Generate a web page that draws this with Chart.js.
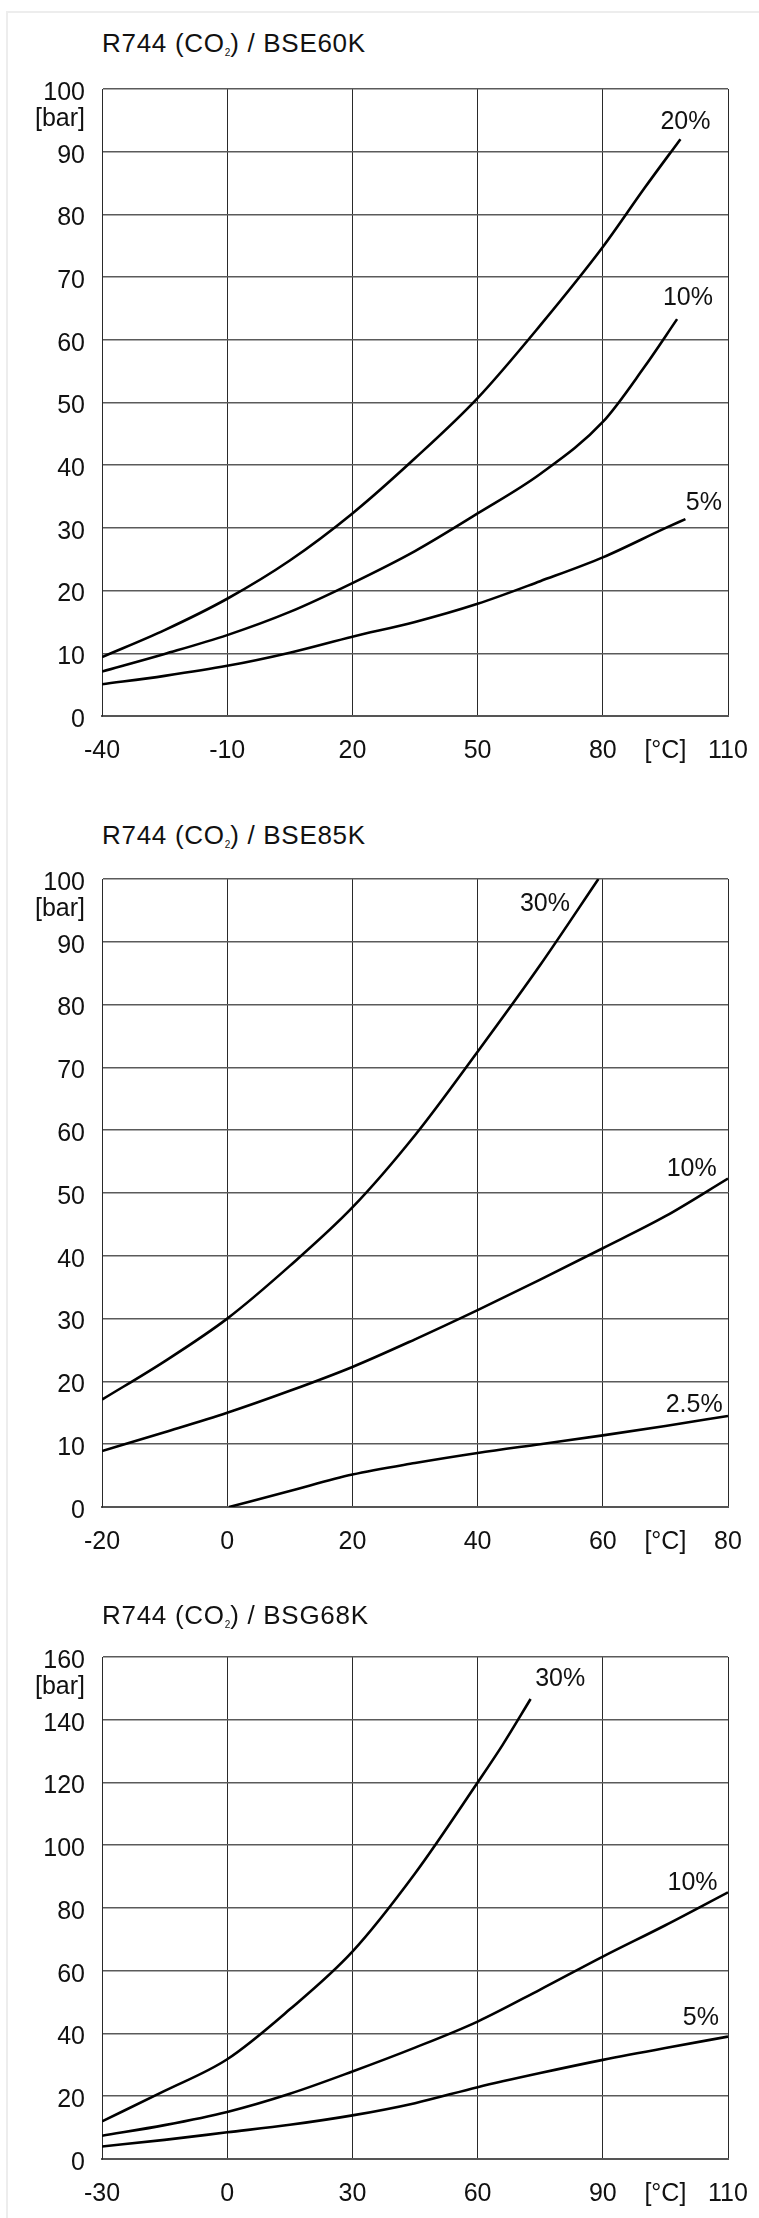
<!DOCTYPE html>
<html>
<head>
<meta charset="utf-8">
<script src="https://cdn.jsdelivr.net/npm/chart.js@4.4.1/dist/chart.umd.min.js"></script>
<style>
  body { margin: 0; background: #fff; width: 759px; height: 2218px; position: relative; overflow: hidden; font-family: 'Liberation Sans', Arial, sans-serif; color: #111; }
  .frame { position: absolute; left: 6px; top: 11px; width: 800px; height: 2300px; border: 2px solid #ededed; }
  .chart-title { position: absolute; left: 102px; font-size: 26px; letter-spacing: 0.7px; line-height: 30px; white-space: nowrap; z-index: 2; }
  .chart-title sub { font-size: 10px; vertical-align: -4px; line-height: 0; letter-spacing: 0; }
  canvas { position: absolute; left: 0; }
</style>
</head>
<body>
<div class="frame"></div>

<div class="chart-title" style="top:28px">R744 (CO<sub>2</sub>) / BSE60K</div>
<canvas id="bse60k" width="759" height="716" style="top:60px"></canvas>

<div class="chart-title" style="top:820px">R744 (CO<sub>2</sub>) / BSE85K</div>
<canvas id="bse85k" width="759" height="717" style="top:850px"></canvas>

<div class="chart-title" style="top:1600px">R744 (CO<sub>2</sub>) / BSG68K</div>
<canvas id="bsg68k" width="759" height="591" style="top:1628px"></canvas>

<script>
// --- BSE60K ---
const xTicks60 = [-40, -10, 20, 50, 80, 110];
const xLabels60 = ['-40', '-10', '20', '50', '80', '110'];
const yTicks60 = [0, 10, 20, 30, 40, 50, 60, 70, 80, 90, 100];
const t60_20 = [-40, -25, -10, 5, 20, 35, 50, 65, 80, 90, 98.6];
const p60_20 = [9.4, 13.7, 18.7, 24.8, 32.3, 41.1, 50.7, 62.3, 74.8, 84.2, 92];
const t60_10 = [-40, -25, -10, 5, 20, 35, 50, 65, 80, 90, 97.8];
const p60_10 = [7.1, 9.9, 12.9, 16.6, 21.2, 26.3, 32.3, 38.6, 46.9, 55.7, 63.3];
const t60_5 = [-40, -25, -10, 5, 20, 35, 50, 65, 80, 95.1, 99.8];
const p60_5 = [5.05, 6.4, 8.0, 10.1, 12.65, 15.0, 17.9, 21.5, 25.3, 30, 31.4];
const notes60 = [
  { text: '20%', x: 99.8, y: 94.7 },
  { text: '10%', x: 100.4, y: 66.7 },
  { text: '5%', x: 104.2, y: 34 },
];

// --- BSE85K ---
const xTicks85 = [-20, 0, 20, 40, 60, 80];
const xLabels85 = ['-20', '0', '20', '40', '60', '80'];
const yTicks85 = [0, 10, 20, 30, 40, 50, 60, 70, 80, 90, 100];
const t85_30 = [-20, -10, 0, 10, 20, 30, 40, 50, 59.3];
const p85_30 = [17.1, 23.2, 30, 38.4, 47.7, 59.2, 72.5, 86.3, 100];
const t85_10 = [-20, -10, 0, 10, 20, 30, 40, 50, 60, 70, 80];
const p85_10 = [8.9, 11.9, 15.0, 18.5, 22.3, 26.7, 31.35, 36.2, 41.2, 46.3, 52.3];
const t85_25 = [0.3, 10, 20, 30, 40, 50, 60, 70, 80];
const p85_25 = [0, 2.55, 5.16, 7.0, 8.6, 10.0, 11.4, 12.9, 14.5];
const notes85 = [
  { text: '30%', x: 50.75, y: 96 },
  { text: '10%', x: 74.2, y: 53.8 },
  { text: '2.5%', x: 74.6, y: 16.2 },
];

// --- BSG68K (grid positions; last line is printed as 110) ---
const xTicks68 = [-30, 0, 30, 60, 90, 120];
const xLabels68 = ['-30', '0', '30', '60', '90', '110'];
const yTicks68 = [0, 20, 40, 60, 80, 100, 120, 140, 160];
const t68_30 = [-30, -15, 0, 15, 30, 45, 60, 66, 72.7];
const p68_30 = [12, 21.7, 31.8, 47.7, 66.1, 91.0, 120, 132, 146.6];
const t68_10 = [-30, -15, 0, 15, 30, 45, 60, 75, 90, 105, 120];
const p68_10 = [7.4, 10.8, 15, 20.8, 27.9, 35.5, 43.8, 54.0, 64.5, 74.5, 85];
const t68_5 = [-30, -15, 0, 15, 30, 45, 60, 75, 90, 105, 120];
const p68_5 = [4.0, 6.1, 8.5, 10.9, 13.9, 17.8, 22.9, 27.4, 31.6, 35.4, 39.0];
const notes68 = [
  { text: '30%', x: 79.8, y: 153 },
  { text: '10%', x: 111.5, y: 88 },
  { text: '5%', x: 113.5, y: 45 },
];

const FONT = { family: "'Liberation Sans', Arial, sans-serif", size: 25 };
const INK = '#111';

const curveLabels = {
  id: 'curveLabels',
  afterDatasetsDraw(chart, args, opts) {
    const { ctx, scales } = chart;
    ctx.save();
    ctx.font = `${FONT.size}px ${FONT.family}`;
    ctx.fillStyle = INK;
    ctx.textAlign = 'center';
    ctx.textBaseline = 'middle';
    opts.items.forEach((item) => {
      ctx.fillText(item.text, scales.x.getPixelForValue(item.x), scales.y.getPixelForValue(item.y));
    });
    ctx.restore();
  },
};

function renderPressureChart(canvasId, o) {
  // unit captions sit as extra ticks between the last two grid lines
  const xUnitAt = o.xTicks[4] + (o.xTicks[5] - o.xTicks[4]) / 2;
  const yMax = o.yTicks[o.yTicks.length - 1];
  const yUnitAt = yMax - (o.yTicks[1] - o.yTicks[0]) * 0.42;
  return new Chart(document.getElementById(canvasId), {
    type: 'line',
    data: {
      datasets: o.curves.map((c) => ({
        data: c.t.map((t, i) => ({ x: t, y: c.p[i] })),
        borderColor: '#000',
        borderWidth: 2.6,
        pointRadius: 0,
        fill: false,
        cubicInterpolationMode: 'monotone',
      })),
    },
    options: {
      responsive: false,
      animation: false,
      devicePixelRatio: 1,
      layout: { padding: { top: 29, right: 31, bottom: 0, left: 0 } },
      plugins: {
        legend: { display: false },
        tooltip: { enabled: false },
        curveLabels: { items: o.notes },
      },
      scales: {
        x: {
          type: 'linear',
          min: o.xTicks[0],
          max: o.xTicks[o.xTicks.length - 1],
          afterBuildTicks: (axis) => {
            axis.ticks = [...o.xTicks, xUnitAt].sort((a, b) => a - b).map((v) => ({ value: v }));
          },
          afterFit: (axis) => {
            axis.height = 60;
            axis.paddingLeft = 0;
            axis.paddingRight = 0;
          },
          grid: {
            color: (ctx) => (ctx.tick && ctx.tick.value !== xUnitAt ? '#2a2a2a' : 'transparent'),
            lineWidth: 1,
            drawTicks: false,
          },
          border: { color: '#555', width: 2 },
          ticks: {
            autoSkip: false,
            maxRotation: 0,
            minRotation: 0,
            padding: 20,
            color: INK,
            font: FONT,
            callback: (v) => (v === xUnitAt ? '[°C]' : o.xLabels[o.xTicks.indexOf(v)]),
          },
        },
        y: {
          type: 'linear',
          min: 0,
          max: yMax,
          afterBuildTicks: (axis) => {
            axis.ticks = [...o.yTicks, yUnitAt].sort((a, b) => a - b).map((v) => ({ value: v }));
          },
          afterFit: (axis) => {
            axis.width = 102;
            axis.paddingTop = 0;
            axis.paddingBottom = 0;
          },
          grid: {
            color: (ctx) => (ctx.tick && ctx.tick.value !== yUnitAt ? '#5a5a5a' : 'transparent'),
            lineWidth: 1.6,
            drawTicks: false,
          },
          border: { color: '#2a2a2a', width: 1 },
          ticks: {
            autoSkip: false,
            padding: 17,
            labelOffset: 4,
            color: INK,
            font: FONT,
            callback: (v) => (v === yUnitAt ? '[bar]' : String(v)),
          },
        },
      },
    },
    plugins: [curveLabels],
  });
}

renderPressureChart('bse60k', {
  xTicks: xTicks60, xLabels: xLabels60, yTicks: yTicks60, notes: notes60,
  curves: [{ t: t60_20, p: p60_20 }, { t: t60_10, p: p60_10 }, { t: t60_5, p: p60_5 }],
});
renderPressureChart('bse85k', {
  xTicks: xTicks85, xLabels: xLabels85, yTicks: yTicks85, notes: notes85,
  curves: [{ t: t85_30, p: p85_30 }, { t: t85_10, p: p85_10 }, { t: t85_25, p: p85_25 }],
});
renderPressureChart('bsg68k', {
  xTicks: xTicks68, xLabels: xLabels68, yTicks: yTicks68, notes: notes68,
  curves: [{ t: t68_30, p: p68_30 }, { t: t68_10, p: p68_10 }, { t: t68_5, p: p68_5 }],
});
</script>
</body>
</html>
